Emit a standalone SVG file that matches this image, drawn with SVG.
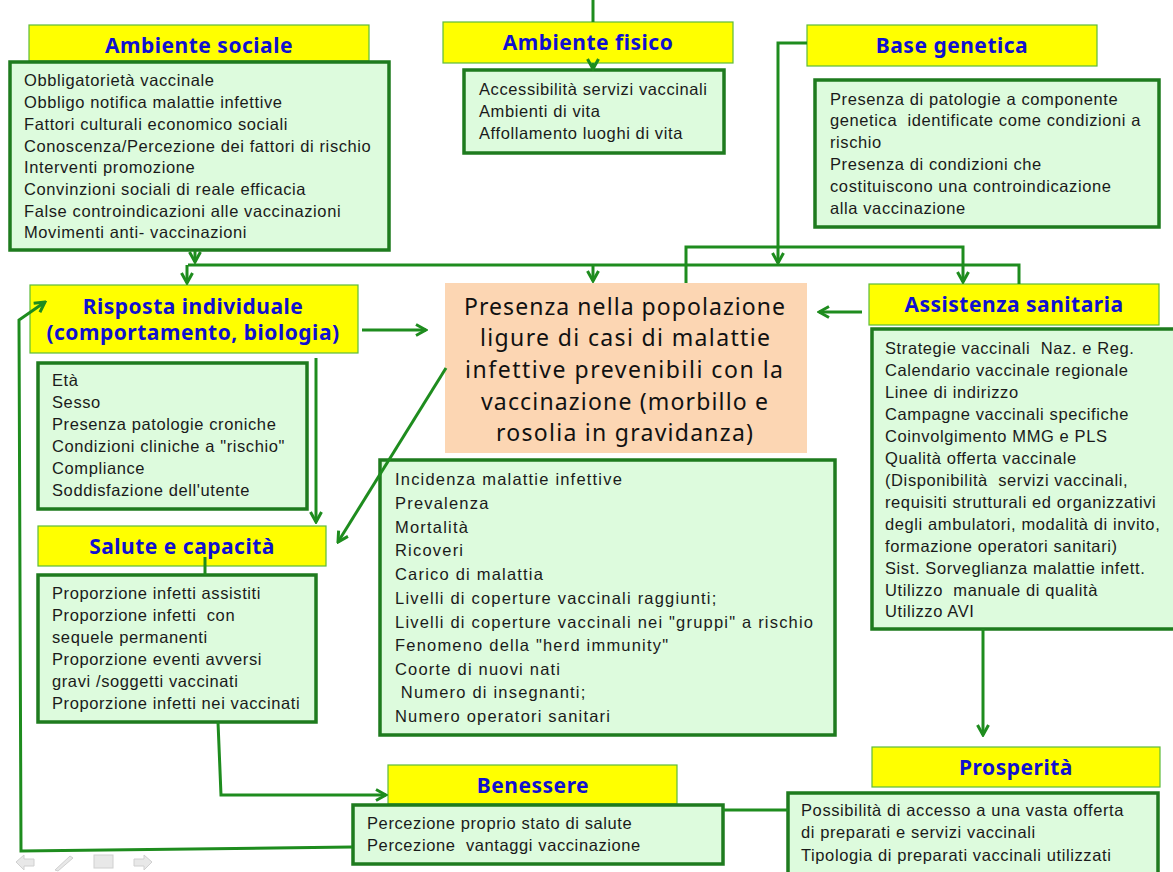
<svg xmlns="http://www.w3.org/2000/svg" width="1173" height="872" viewBox="0 0 1173 872">
<style>
.yb{fill:#FFFF00;stroke:#5DBB3A;stroke-width:1.2}
.gb{fill:#DDFBDD;stroke:#1E7B1E;stroke-width:3.5}
.hd{font-family:"Noto Sans",sans-serif;font-weight:bold;font-size:21px;letter-spacing:0.5px;fill:#1010D0;text-anchor:middle}
.tx{font-family:"Liberation Sans",Arial,sans-serif;font-size:16.5px;letter-spacing:0.6px;fill:#1a1a1a;white-space:pre}
.tx2{font-family:"Liberation Sans",Arial,sans-serif;font-size:16.5px;letter-spacing:1.2px;fill:#1a1a1a;white-space:pre}
.ct{font-family:"Noto Sans",sans-serif;font-size:23px;fill:#111}
.cn{fill:none;stroke:#1E8C1E;stroke-width:3}
.nav{fill:#E8E8E8;stroke:#D0D0D0;stroke-width:1}
</style>
<defs>
<marker id="ah" viewBox="0 0 14 14" refX="12" refY="7" markerWidth="14" markerHeight="14" orient="auto" markerUnits="userSpaceOnUse">
<path d="M2,1.5 L12,7 L2,12.5" fill="none" stroke="#1E8C1E" stroke-width="3"/>
</marker>
</defs>
<rect width="1173" height="872" fill="#FFFFFF"/>

<g id="ambiente-sociale">
<rect class="yb" x="29" y="25" width="340" height="36"/>
<text class="hd" x="199" y="53">Ambiente sociale</text>
<rect class="gb" x="10" y="62" width="379" height="188"/>
<text class="tx"><tspan x="24" y="86">Obbligatorietà vaccinale</tspan><tspan x="24" y="108">Obbligo notifica malattie infettive</tspan><tspan x="24" y="130">Fattori culturali economico sociali</tspan><tspan x="24" y="152">Conoscenza/Percezione dei fattori di rischio</tspan><tspan x="24" y="173">Interventi promozione</tspan><tspan x="24" y="195">Convinzioni sociali di reale efficacia</tspan><tspan x="24" y="217">False controindicazioni alle vaccinazioni</tspan><tspan x="24" y="238">Movimenti anti- vaccinazioni</tspan></text>
</g>

<g id="ambiente-fisico">
<rect class="yb" x="443" y="22" width="290" height="41"/>
<text class="hd" x="588" y="50">Ambiente fisico</text>
<rect class="gb" x="464" y="70" width="260" height="83"/>
<text class="tx"><tspan x="479" y="95">Accessibilità servizi vaccinali</tspan><tspan x="479" y="117">Ambienti di vita</tspan><tspan x="479" y="139">Affollamento luoghi di vita</tspan></text>
</g>

<g id="base-genetica">
<rect class="yb" x="807" y="25" width="290" height="41"/>
<text class="hd" x="952" y="53">Base genetica</text>
<rect class="gb" x="815" y="80" width="344" height="147"/>
<text class="tx"><tspan x="830" y="105">Presenza di patologie a componente</tspan><tspan x="830" y="126">genetica  identificate come condizioni a</tspan><tspan x="830" y="148">rischio</tspan><tspan x="830" y="170">Presenza di condizioni che</tspan><tspan x="830" y="192">costituiscono una controindicazione</tspan><tspan x="830" y="214">alla vaccinazione</tspan></text>
</g>

<g id="risposta-individuale">
<rect class="yb" x="30" y="285" width="328" height="68"/>
<text class="hd"><tspan x="193" y="314">Risposta individuale</tspan><tspan x="193" y="340">(comportamento, biologia)</tspan></text>
<rect class="gb" x="38" y="363" width="269" height="146"/>
<text class="tx"><tspan x="52" y="386">Età</tspan><tspan x="52" y="408">Sesso</tspan><tspan x="52" y="430">Presenza patologie croniche</tspan><tspan x="52" y="452">Condizioni cliniche a "rischio"</tspan><tspan x="52" y="474">Compliance</tspan><tspan x="52" y="496">Soddisfazione dell'utente</tspan></text>
</g>

<g id="presenza">
<rect x="445" y="283" width="362" height="170" fill="#FCD6B3"/>
<text class="ct"><tspan x="464" y="315" textLength="321" lengthAdjust="spacing">Presenza nella popolazione</tspan><tspan x="480" y="346" textLength="290" lengthAdjust="spacing">ligure di casi di malattie</tspan><tspan x="465" y="378" textLength="318" lengthAdjust="spacing">infettive prevenibili con la</tspan><tspan x="481" y="410" textLength="287" lengthAdjust="spacing">vaccinazione (morbillo e</tspan><tspan x="496" y="441" textLength="257" lengthAdjust="spacing">rosolia in gravidanza)</tspan></text>
</g>

<g id="assistenza-sanitaria">
<rect class="yb" x="869" y="284" width="290" height="41"/>
<text class="hd" x="1014" y="312">Assistenza sanitaria</text>
<rect class="gb" x="872" y="329" width="305" height="300"/>
<text class="tx"><tspan x="885" y="354">Strategie vaccinali  Naz. e Reg.</tspan><tspan x="885" y="376">Calendario vaccinale regionale</tspan><tspan x="885" y="398">Linee di indirizzo</tspan><tspan x="885" y="420">Campagne vaccinali specifiche</tspan><tspan x="885" y="442">Coinvolgimento MMG e PLS</tspan><tspan x="885" y="464">Qualità offerta vaccinale</tspan><tspan x="885" y="486">(Disponibilità  servizi vaccinali,</tspan><tspan x="885" y="508">requisiti strutturali ed organizzativi</tspan><tspan x="885" y="530">degli ambulatori, modalità di invito,</tspan><tspan x="885" y="552">formazione operatori sanitari)</tspan><tspan x="885" y="574">Sist. Sorveglianza malattie infett.</tspan><tspan x="885" y="596">Utilizzo  manuale di qualità</tspan><tspan x="885" y="617">Utilizzo AVI</tspan></text>
</g>

<g id="indicatori">
<rect class="gb" x="380" y="460" width="455" height="275"/>
<text class="tx2"><tspan x="395" y="485">Incidenza malattie infettive</tspan><tspan x="395" y="509">Prevalenza</tspan><tspan x="395" y="533">Mortalità</tspan><tspan x="395" y="556">Ricoveri</tspan><tspan x="395" y="580">Carico di malattia</tspan><tspan x="395" y="604">Livelli di coperture vaccinali raggiunti;</tspan><tspan x="395" y="628">Livelli di coperture vaccinali nei "gruppi" a rischio</tspan><tspan x="395" y="651">Fenomeno della "herd immunity"</tspan><tspan x="395" y="675">Coorte di nuovi nati</tspan><tspan x="395" y="698"> Numero di insegnanti;</tspan><tspan x="395" y="722">Numero operatori sanitari</tspan></text>
</g>

<g id="salute-capacita">
<rect class="yb" x="38" y="526" width="288" height="40"/>
<text class="hd" x="182" y="554">Salute e capacità</text>
<rect class="gb" x="38" y="575" width="278" height="147"/>
<text class="tx"><tspan x="52" y="599">Proporzione infetti assistiti</tspan><tspan x="52" y="621">Proporzione infetti  con</tspan><tspan x="52" y="643">sequele permanenti</tspan><tspan x="52" y="665">Proporzione eventi avversi</tspan><tspan x="52" y="687">gravi /soggetti vaccinati</tspan><tspan x="52" y="709">Proporzione infetti nei vaccinati</tspan></text>
</g>

<g id="benessere">
<rect class="yb" x="388" y="765" width="289" height="39"/>
<text class="hd" x="533" y="793">Benessere</text>
<rect class="gb" x="353" y="805" width="370" height="59"/>
<text class="tx"><tspan x="367" y="829">Percezione proprio stato di salute</tspan><tspan x="367" y="851">Percezione  vantaggi vaccinazione</tspan></text>
</g>

<g id="prosperita">
<rect class="yb" x="872" y="747" width="288" height="40"/>
<text class="hd" x="1016" y="775">Prosperità</text>
<rect class="gb" x="788" y="793" width="370" height="82"/>
<text class="tx"><tspan x="801" y="816">Possibilità di accesso a una vasta offerta</tspan><tspan x="801" y="838">di preparati e servizi vaccinali</tspan><tspan x="801" y="861">Tipologia di preparati vaccinali utilizzati</tspan></text>
</g>

<g id="nav-icons">
<path class="nav" d="M16,862 L24,855 L24,859 L34,859 L34,866 L24,866 L24,870 Z"/>
<path class="nav" d="M55,870 L70,856 L73,858 L58,871 Z"/>
<rect class="nav" x="94" y="855" width="19" height="13"/>
<path class="nav" d="M152,862 L144,855 L144,859 L134,859 L134,866 L144,866 L144,870 Z"/>
</g>

<g id="connectors">
<path class="cn" d="M593,0 L593,22"/>
<path class="cn" d="M593,63 L593,69" marker-end="url(#ah)"/>
<path class="cn" d="M195,251 L195,262" marker-end="url(#ah)"/>
<path class="cn" d="M188,265 L1019,265 L1019,284"/>
<path class="cn" d="M187,265 L187,283" marker-end="url(#ah)"/>
<path class="cn" d="M593,265 L593,281" marker-end="url(#ah)"/>
<path class="cn" d="M807,43 L778,43 L778,263" marker-end="url(#ah)"/>
<path class="cn" d="M686,283 L686,247 L963,247 L963,282" marker-end="url(#ah)"/>
<path class="cn" d="M362,330 L426,330" marker-end="url(#ah)"/>
<path class="cn" d="M862,312 L819,312" marker-end="url(#ah)"/>
<path class="cn" d="M446,368 L338,542" marker-end="url(#ah)"/>
<path class="cn" d="M316,358 L316,522" marker-end="url(#ah)"/>
<path class="cn" d="M205,557 L205,575"/>
<path class="cn" d="M218,722 L221,795 L386,795" marker-end="url(#ah)"/>
<path class="cn" d="M352,847 L21,851 L19,320 L45,302" marker-end="url(#ah)"/>
<path class="cn" d="M723,810 L788,810"/>
<path class="cn" d="M983,629 L983,735" marker-end="url(#ah)"/>
</g>
</svg>
